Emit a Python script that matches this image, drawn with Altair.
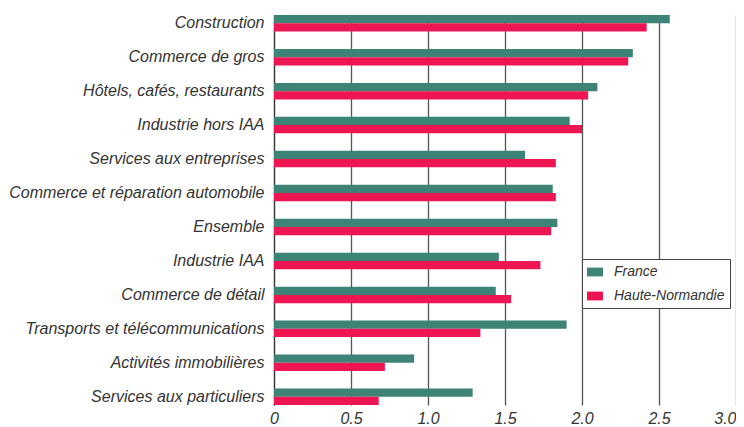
import altair as alt
import pandas as pd

categories = [
    "Construction",
    "Commerce de gros",
    "Hôtels, cafés, restaurants",
    "Industrie hors IAA",
    "Services aux entreprises",
    "Commerce et réparation automobile",
    "Ensemble",
    "Industrie IAA",
    "Commerce de détail",
    "Transports et télécommunications",
    "Activités immobilières",
    "Services aux particuliers",
]
france = [2.57, 2.33, 2.10, 1.92, 1.63, 1.81, 1.84, 1.46, 1.44, 1.90, 0.91, 1.29]
haute_normandie = [2.42, 2.30, 2.04, 2.00, 1.83, 1.83, 1.80, 1.73, 1.54, 1.34, 0.72, 0.68]
series = ["France", "Haute-Normandie"]
colors = ["#3D8476", "#EE1652"]

rows = []
for c, f, h in zip(categories, france, haute_normandie):
    rows.append({"cat": c, "serie": series[0], "val": f})
    rows.append({"cat": c, "serie": series[1], "val": h})
df = pd.DataFrame(rows)

font = "Liberation Sans"

chart = alt.Chart(df).mark_bar(height={"band": 1}).encode(
    y=alt.Y("cat:N", sort=categories,
            scale=alt.Scale(paddingInner=0.514, paddingOuter=0),
            axis=alt.Axis(title=None, ticks=False, domain=True, domainColor="#333",
                          domainWidth=1.2, labelFont=font, labelFontSize=16,
                          labelFontStyle="italic", labelColor="#333", labelPadding=10,
                          labelLimit=400)),
    yOffset=alt.YOffset("serie:N", sort=series),
    x=alt.X("val:Q", scale=alt.Scale(domain=[0, 3], nice=False),
            axis=alt.Axis(title=None, values=[0, 0.5, 1, 1.5, 2, 2.5, 3], domain=False,
                          ticks=False, grid=True, gridColor="#555", gridWidth=1.3,
                          labelExpr="datum.value == 0 ? '0' : format(datum.value, '.1f')",
                          labelAlign={"condition": {"test": "datum.value == 3", "value": "right"},
                                      "value": "center"},
                          labelFont=font, labelFontSize=16, labelFontStyle="italic",
                          labelColor="#333", labelPadding=5, labelFlush=False)),
    color=alt.Color("serie:N", sort=series,
                    scale=alt.Scale(domain=series, range=colors),
                    legend=alt.Legend(title=None, orient="none", legendX=308, legendY=244,
                                      direction="vertical", strokeColor="#444",
                                      fillColor="white", padding=5,
                                      symbolType="M-1,-0.55H1V0.55H-1Z", symbolSize=256,
                                      symbolStrokeWidth=0, labelFont=font, labelFontSize=14,
                                      labelFontStyle="italic", labelColor="#333",
                                      rowPadding=9, labelOffset=11)),
).properties(
    width=462, height=390,
    autosize=alt.AutoSizeParams(type="none"),
    padding={"left": 266, "top": 7, "right": 0, "bottom": 20},
).configure_view(stroke=None)

chart.save("out.html", embed_options={"renderer": "svg", "actions": False})
